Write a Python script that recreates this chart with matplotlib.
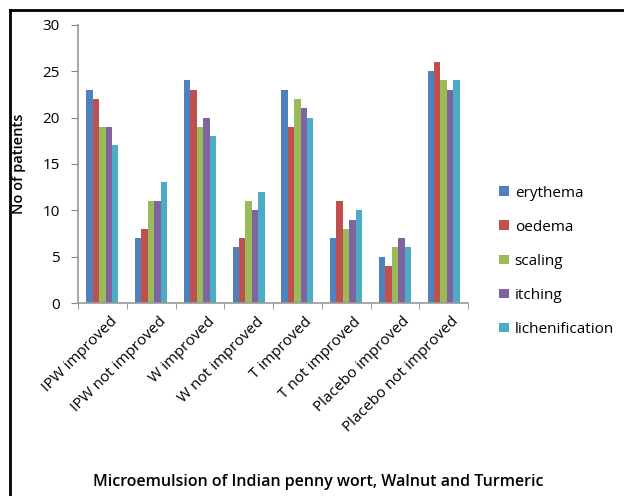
import numpy as np
import matplotlib.pyplot as plt
from matplotlib.lines import Line2D

groups = ["IPW improved", "IPW not improved", "W improved", "W not improved",
          "T improved", "T not improved", "Placebo improved", "Placebo not improved"]
erythema = [23, 7, 24, 6, 23, 7, 5, 25]
oedema = [22, 8, 23, 7, 19, 11, 4, 26]
scaling = [19, 11, 19, 11, 22, 8, 6, 24]
itching = [19, 11, 20, 10, 21, 9, 7, 23]
lichenification = [17, 13, 18, 12, 20, 10, 6, 24]

series = [("erythema", erythema, "#4F81BD"),
          ("oedema", oedema, "#C0504D"),
          ("scaling", scaling, "#9BBB59"),
          ("itching", itching, "#8064A2"),
          ("lichenification", lichenification, "#4BACC6")]

plt.rcParams["font.family"] = ["Open Sans", "DejaVu Sans"]

fig = plt.figure(figsize=(6.24, 4.96), dpi=100)
ax = fig.add_axes([0.125, 0.389, 0.625, 0.561])

x = np.arange(len(groups))
w = 0.132
for i, (name, vals, col) in enumerate(series):
    ax.bar(x + (i - 2) * w, vals, w, color=col, label=name, edgecolor="none")

ax.set_xlim(-0.5, len(groups) - 0.5)
ax.set_ylim(0, 30)
ax.set_yticks(range(0, 31, 5))
ax.set_xticks(x + 0.15)
ax.set_xticklabels(groups, rotation=45, ha="right", rotation_mode="anchor", fontsize=11)
ax.tick_params(axis="x", length=0, pad=8)
ax.set_xticks(np.arange(-0.5, len(groups), 1), minor=True)
ax.tick_params(axis="x", which="minor", length=4, color="#888888")
ax.tick_params(axis="y", labelsize=11, color="#888888", length=5, pad=8)
for s in ["top", "right"]:
    ax.spines[s].set_visible(False)
for s in ["left", "bottom"]:
    ax.spines[s].set_color("#999999")
    ax.spines[s].set_linewidth(1.2)

ax.set_ylabel("No of patients", fontsize=10.5, fontweight="semibold", labelpad=12)

ax.legend(loc="center left", bbox_to_anchor=(1.065, 0.15), frameon=False,
          fontsize=11, handlelength=0.6, handleheight=0.6, handletextpad=0.4,
          labelspacing=1.25, borderaxespad=0)

fig.text(0.51, 0.012, "Microemulsion of Indian penny wort, Walnut and Turmeric",
         ha="center", va="bottom", fontsize=11.5, fontweight="semibold")

# border lines (left and top)
fig.add_artist(Line2D([10 / 624, 10 / 624], [0, 1 - 10 / 496], color="black", lw=2,
                      transform=fig.transFigure))
fig.add_artist(Line2D([10 / 624, 1], [1 - 10 / 496, 1 - 10 / 496], color="black", lw=2,
                      transform=fig.transFigure))

fig.savefig("out.png", dpi=100)
